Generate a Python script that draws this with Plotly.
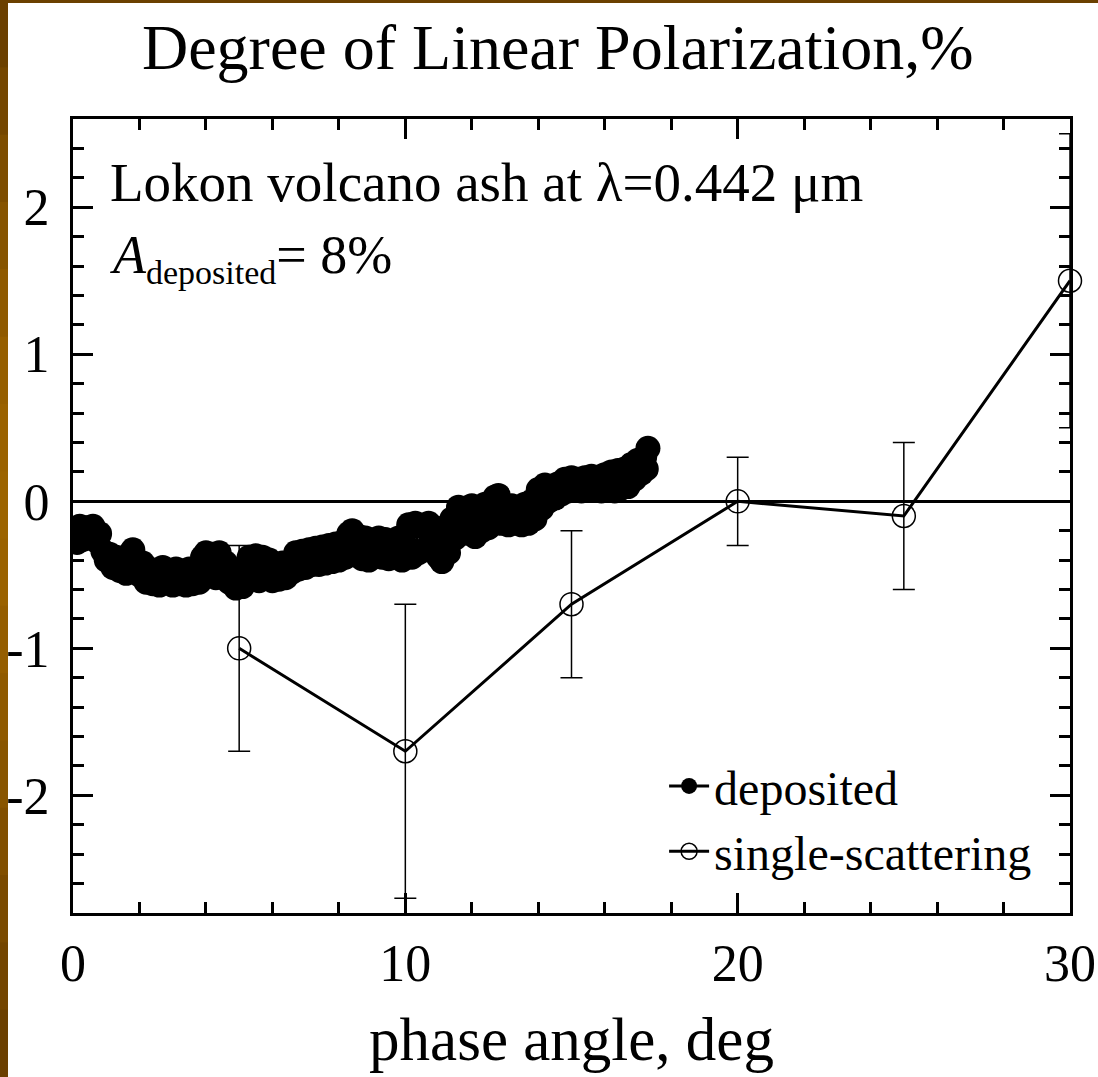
import plotly.graph_objects as go

# ---------------- data ----------------
dep_x = [0.05, 0.12, 0.2, 0.3, 0.4, 0.5, 0.6, 0.7, 0.8, 0.9,
         1.0, 1.1, 1.2, 1.3, 1.4, 1.5, 1.6, 1.7, 1.8, 1.9,
         2.0, 2.1, 2.2, 2.3, 2.4, 2.5, 2.6, 2.7, 2.8, 2.9,
         3.0, 3.1, 3.2, 3.3, 3.4, 3.5, 3.6, 3.7, 3.8, 3.9,
         4.0, 4.1, 4.2, 4.3, 4.4, 4.5, 4.6, 4.7, 4.8, 4.9,
         5.0, 5.1, 5.2, 5.3, 5.4, 5.5, 5.6, 5.7, 5.8, 5.9,
         6.0, 6.1, 6.2, 6.3, 6.4, 6.5, 6.6, 6.7, 6.8, 6.9,
         7.0, 7.1, 7.2, 7.3, 7.4, 7.5, 7.6, 7.7, 7.8, 7.9,
         8.0, 8.1, 8.2, 8.3, 8.4, 8.5, 8.6, 8.7, 8.8, 8.9,
         9.0, 9.1, 9.2, 9.3, 9.4, 9.5, 9.6, 9.7, 9.8, 9.9,
         10.0, 10.1, 10.2, 10.3, 10.4, 10.5, 10.6, 10.7, 10.8, 10.9,
         11.0, 11.1, 11.2, 11.3, 11.4, 11.5, 11.6, 11.7, 11.8, 11.9,
         12.0, 12.1, 12.2, 12.3, 12.4, 12.5, 12.6, 12.7, 12.8, 12.9,
         13.0, 13.1, 13.2, 13.3, 13.4, 13.5, 13.6, 13.7, 13.8, 13.9,
         14.0, 14.1, 14.2, 14.3, 14.4, 14.5, 14.6, 14.7, 14.8, 14.9,
         15.0, 15.1, 15.2, 15.3, 15.4, 15.5, 15.6, 15.7, 15.8, 15.9,
         16.0, 16.1, 16.2, 16.3, 16.4, 16.5, 16.6, 16.7, 16.8, 16.9,
         17.0, 17.1, 17.2, 17.25, 17.3]
dep_y = [-0.20, -0.28, -0.17, -0.26, -0.18, -0.24, -0.17, -0.27, -0.22, -0.34,
         -0.40, -0.36, -0.45, -0.38, -0.47, -0.40, -0.49, -0.36, -0.33, -0.45,
         -0.50, -0.42, -0.55, -0.46, -0.56, -0.47, -0.57, -0.45, -0.55, -0.47,
         -0.57, -0.46, -0.56, -0.48, -0.57, -0.46, -0.56, -0.50, -0.55, -0.38,
         -0.35, -0.45, -0.36, -0.52, -0.35, -0.50, -0.42, -0.55, -0.48, -0.59,
         -0.52, -0.58, -0.45, -0.38, -0.52, -0.37, -0.54, -0.38, -0.50, -0.40,
         -0.54, -0.44, -0.53, -0.42, -0.52, -0.42, -0.48, -0.35, -0.46, -0.34,
         -0.45, -0.33, -0.43, -0.32, -0.43, -0.31, -0.42, -0.30, -0.41, -0.29,
         -0.40, -0.28, -0.38, -0.22, -0.20, -0.36, -0.24, -0.39, -0.25, -0.40,
         -0.27, -0.37, -0.25, -0.38, -0.26, -0.39, -0.28, -0.36, -0.25, -0.40,
         -0.30, -0.16, -0.38, -0.15, -0.35, -0.17, -0.33, -0.15, -0.30, -0.18,
         -0.38, -0.41, -0.20, -0.35, -0.12, -0.25, -0.04, -0.22, -0.05, -0.20,
         -0.03, -0.24, -0.06, -0.20, -0.02, -0.18, -0.03, 0.03, 0.04, -0.15,
         -0.04, -0.16, -0.03, -0.15, -0.04, -0.16, -0.02, -0.15, 0.00, -0.12,
         0.08, -0.05, 0.11, 0.00, 0.10, 0.02, 0.12, 0.05, 0.15, 0.07,
         0.16, 0.08, 0.15, 0.07, 0.16, 0.09, 0.17, 0.08, 0.16, 0.07,
         0.18, 0.08, 0.20, 0.07, 0.21, 0.09, 0.22, 0.10, 0.25, 0.15,
         0.28, 0.19, 0.30, 0.22, 0.36]

ss_x = [5, 10, 15, 20, 25, 30]
ss_y = [-1.0, -1.7, -0.7, 0.0, -0.1, 1.5]
ss_err = [0.7, 1.0, 0.5, 0.3, 0.5, 1.0]

x_ticks = [0, 10, 20, 30]
y_ticks = [-2, -1, 0, 1, 2]

FONT = "Liberation Serif"

fig = go.Figure()

fig.add_trace(go.Scatter(
    x=dep_x, y=dep_y, mode="lines+markers", name="deposited",
    line=dict(color="black", width=3),
    marker=dict(symbol="circle", size=25, color="black"),
))

fig.add_trace(go.Scatter(
    x=ss_x, y=ss_y, mode="lines+markers", name="single-scattering",
    line=dict(color="black", width=3),
    marker=dict(symbol="circle-open", size=23, color="black", line=dict(width=1.5)),
    error_y=dict(type="data", array=ss_err, visible=True, color="black",
                 thickness=1.5, width=11),
    cliponaxis=False,
))

# brown slide border (left strip gradient + top strip)
L, R, T, B = 73, 28, 119, 164
PW = 1098 - L - R
PH = 1077 - T - B
shapes = []
strip_cols = ["#6b4000", "#744600", "#7d4d00", "#865400", "#8f5a00", "#965f00",
              "#9a6200", "#9c6400", "#9a6200", "#955e00", "#8f5a00", "#885500",
              "#814f00", "#7a4a00", "#734500", "#6b4000"]
n = len(strip_cols)
for i, c in enumerate(strip_cols):
    top_px = i * 1077 / n
    bot_px = (i + 1) * 1077 / n + 1
    shapes.append(dict(
        type="rect", xref="paper", yref="paper", layer="above",
        x0=-L / PW, x1=(-L + 8) / PW,
        y0=(1077 - B - bot_px) / PH, y1=(1077 - B - top_px) / PH,
        fillcolor=c, line=dict(width=0)))
shapes.append(dict(
    type="rect", xref="paper", yref="paper", layer="above",
    x0=-L / PW, x1=(1098 - L) / PW,
    y0=(1077 - B - 3) / PH, y1=(1077 - B) / PH,
    fillcolor="#6b4000", line=dict(width=0)))

fig.update_layout(
    template="none",
    width=1098, height=1077,
    margin=dict(l=L, r=R, t=T, b=B, autoexpand=False),
    paper_bgcolor="white", plot_bgcolor="white",
    font=dict(family=FONT, color="black"),
    title=dict(text="Degree of Linear Polarization,%", x=0.508, xanchor="center",
               y=1 - 47 / 1077, yanchor="middle", yref="container",
               font=dict(size=64, family=FONT, color="black")),
    showlegend=True,
    legend=dict(x=0.967, xanchor="right", y=0.03, yanchor="bottom",
                bgcolor="rgba(0,0,0,0)", font=dict(size=48, family=FONT, color="black"),
                tracegroupgap=0, itemwidth=40),
    shapes=shapes,
    annotations=[
        dict(text="Lokon volcano ash at λ=0.442 μm", xref="paper", yref="paper",
             x=(108 - L) / PW, y=(913 - 183) / PH, xanchor="left", yanchor="middle",
             showarrow=False, font=dict(size=55, family=FONT, color="black")),
        dict(text="<i>A</i><sub><span style=\"font-size:34px\">deposited</span></sub>= 8%",
             xref="paper", yref="paper",
             x=(108 - L) / PW, y=(913 - 258) / PH, xanchor="left", yanchor="middle",
             showarrow=False, font=dict(size=54, family=FONT, color="black")),
    ],
)

fig.update_xaxes(
    range=[0, 30], tickvals=x_ticks, ticktext=[str(v) for v in x_ticks],
    showgrid=False, zeroline=False, automargin=False,
    showline=True, linecolor="black", linewidth=3, mirror="ticks",
    ticks="inside", ticklen=20, tickwidth=2.5, tickcolor="black",
    minor=dict(dtick=2, ticks="inside", ticklen=11, tickwidth=2.5, tickcolor="black", showgrid=False),
    tickfont=dict(size=52, family=FONT, color="black"), ticklabelstandoff=3,
    title=dict(text="phase angle, deg", font=dict(size=61, family=FONT, color="black"), standoff=26),
)
fig.update_yaxes(
    range=[-2.8, 2.6], tickvals=y_ticks, ticktext=[str(v) for v in y_ticks],
    showgrid=False, zeroline=True, zerolinecolor="black", zerolinewidth=2.5,
    automargin=False,
    showline=True, linecolor="black", linewidth=3, mirror="ticks",
    ticks="inside", ticklen=20, tickwidth=2.5, tickcolor="black",
    minor=dict(dtick=0.2, ticks="inside", ticklen=11, tickwidth=2.5, tickcolor="black", showgrid=False),
    tickfont=dict(size=52, family=FONT, color="black"), ticklabelstandoff=10,
)

fig.write_html("out.html")
